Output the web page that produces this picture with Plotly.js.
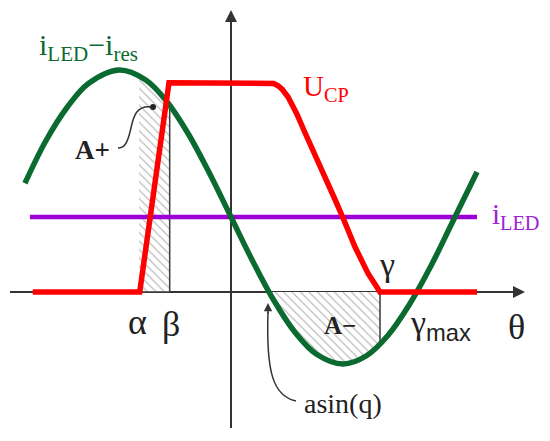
<!DOCTYPE html>
<html><head><meta charset="utf-8">
<script src="https://cdn.plot.ly/plotly-3.0.1.min.js"></script>
<style>html,body{margin:0;padding:0;background:#fff}#chart{width:550px;height:441px}</style>
</head><body><div id="chart"></div>
<script>
// i_LED - i_res (green)
const greenTheta = [-2.89,-2.6,-2.3,-2.0,-1.57,-1.2,-0.9,-0.6,-0.3,0,0.3,0.6,0.9,1.2,1.57,1.9,2.2,2.5,2.8,3.1,3.45];
const greenValue = [1.45,2.01,2.46,2.78,2.96,2.83,2.54,2.11,1.58,1.0,0.42,-0.11,-0.54,-0.83,-0.96,-0.85,-0.58,-0.17,0.34,0.92,1.60];
// U_CP (red)
const ucpTheta = [-2.78,-1.28,-0.87,0.52,0.60,0.66,0.72,0.80,0.92,1.04,1.28,1.46,1.57,1.74,1.92,2.04,2.09,3.45];
const ucpValue = [0,0,2.79,2.79,2.78,2.75,2.70,2.60,2.38,2.12,1.63,1.23,0.99,0.60,0.25,0.06,0,0];
// i_LED (purple)
const iledTheta = [-2.82, 3.45];
const iledValue = [1.0, 1.0];
// hatched areas
const aPlusTheta = [-1.29,-1.2,-1.1,-1.0,-0.86];
const aPlusValue = [2.88,2.83,2.75,2.65,2.49];
const aMinusTheta = [0.535,0.7,0.9,1.1,1.3,1.5,1.7,1.9,2.09];
const aMinusValue = [0,-0.26,-0.54,-0.75,-0.89,-0.955,-0.944,-0.85,-0.70];

const W = 550, H = 441;
const OX = 231, OY = 292, KX = 71.3, KY = 75;
const X0 = -OX / KX, X1 = (W - OX) / KX;
const Y1 = OY / KY, Y0 = -(H - OY) / KY;

const px = p => p / W;
const py = p => 1 - p / H;

const alpha = aPlusTheta[0], beta = aPlusTheta[aPlusTheta.length - 1];
const gamma = aMinusTheta[aMinusTheta.length - 1];

const hatch = {shape: '\\', fgcolor: '#b0b0b0', bgcolor: '#ffffff', size: 6, solidity: 0.18};
const edge = {color: '#3a3a3a', width: 1.5};

const traces = [
  {x: aPlusTheta.concat([beta, alpha]), y: aPlusValue.concat([0, 0]), mode: 'lines',
   fill: 'toself', fillpattern: hatch, fillcolor: 'rgba(0,0,0,0)', line: edge, hoverinfo: 'skip'},
  {x: aMinusTheta.concat([gamma]), y: aMinusValue.concat([0]), mode: 'lines',
   fill: 'toself', fillpattern: hatch, fillcolor: 'rgba(0,0,0,0)', line: edge, hoverinfo: 'skip'},
  {x: iledTheta, y: iledValue, mode: 'lines', line: {color: '#9b00d6', width: 4.5}},
  {x: greenTheta, y: greenValue, mode: 'lines', line: {color: '#0b6a30', width: 5.5, shape: 'spline', smoothing: 1}},
  {x: ucpTheta, y: ucpValue, mode: 'lines', line: {color: '#ff0000', width: 5.5}}
];

const shapes = [
  {type: 'line', xref: 'paper', yref: 'paper', x0: px(10), y0: py(OY), x1: px(515), y1: py(OY),
   line: {color: '#333', width: 2}, layer: 'below'},
  {type: 'line', xref: 'paper', yref: 'paper', x0: px(OX), y0: py(428), x1: px(OX), y1: py(20),
   line: {color: '#333', width: 2}, layer: 'below'},
  // asin(q) leader
  {type: 'path', xref: 'paper', yref: 'paper',
   path: 'M' + px(268) + ',' + py(312) + ' C' + px(266) + ',' + py(372) + ' ' + px(273) + ',' + py(396) + ' ' + px(296) + ',' + py(401),
   line: {color: '#333', width: 1.5}},
  // A+ leader
  {type: 'path', xref: 'paper', yref: 'paper',
   path: 'M' + px(153) + ',' + py(107) + ' C' + px(134) + ',' + py(104) + ' ' + px(133) + ',' + py(120) + ' ' + px(130) + ',' + py(132) +
         ' C' + px(127) + ',' + py(144) + ' ' + px(124) + ',' + py(148) + ' ' + px(118) + ',' + py(148),
   line: {color: '#333', width: 1.5}},
  {type: 'circle', xref: 'paper', yref: 'paper', x0: px(150), x1: px(156), y0: py(104), y1: py(110),
   fillcolor: '#222', line: {color: '#222', width: 0}}
];

const SERIF = 'Liberation Serif';
function lab(x, y, text, size, color) {
  return {xref: 'paper', yref: 'paper', x: px(x), y: py(y), text: text, showarrow: false,
    xanchor: 'center', yanchor: 'middle',
    font: {family: SERIF, size: size, color: color}};
}

const annotations = [
  // axis arrowheads
  {xref: 'paper', yref: 'paper', x: px(OX), y: py(10), ax: 0, ay: 20, text: '', showarrow: true,
   arrowhead: 2, arrowsize: 1.2, arrowwidth: 2, arrowcolor: '#333'},
  {xref: 'paper', yref: 'paper', x: px(525), y: py(OY), ax: -20, ay: 0, text: '', showarrow: true,
   arrowhead: 2, arrowsize: 1.2, arrowwidth: 2, arrowcolor: '#333'},
  {xref: 'paper', yref: 'paper', x: px(268), y: py(303), ax: 0, ay: 12, text: '', showarrow: true,
   arrowhead: 2, arrowsize: 1.1, arrowwidth: 1.5, arrowcolor: '#333'},
  lab(88, 47, 'i<sub>LED</sub>−i<sub>res</sub>', 30, '#0b6a30'),
  lab(326, 88, 'U<sub>CP</sub>', 29, '#ff0000'),
  lab(516, 216, 'i<sub>LED</sub>', 29, '#a020d6'),
  lab(387, 264, 'γ', 34, '#222'),
  lab(137, 322, 'α', 36, '#222'),
  lab(171, 324, 'β', 36, '#222'),
  lab(441, 325, 'γ<sub><span style="font-family:Liberation Sans">max</span></sub>', 34, '#222'),
  lab(516, 327, 'θ', 36, '#222'),
  lab(92, 150, '<b>A+</b>', 27, '#222'),
  lab(340, 325, '<b>A−</b>', 25, '#222'),
  lab(343, 403, 'asin(q)', 28, '#222')
];

const layout = {
  width: W, height: H, margin: {l: 0, r: 0, t: 0, b: 0},
  paper_bgcolor: '#fff', plot_bgcolor: '#fff', showlegend: false,
  font: {family: SERIF},
  xaxis: {range: [X0, X1], visible: false, fixedrange: true},
  yaxis: {range: [Y0, Y1], visible: false, fixedrange: true},
  shapes: shapes, annotations: annotations
};

Plotly.newPlot('chart', traces, layout, {staticPlot: true, displayModeBar: false});
</script></body></html>
